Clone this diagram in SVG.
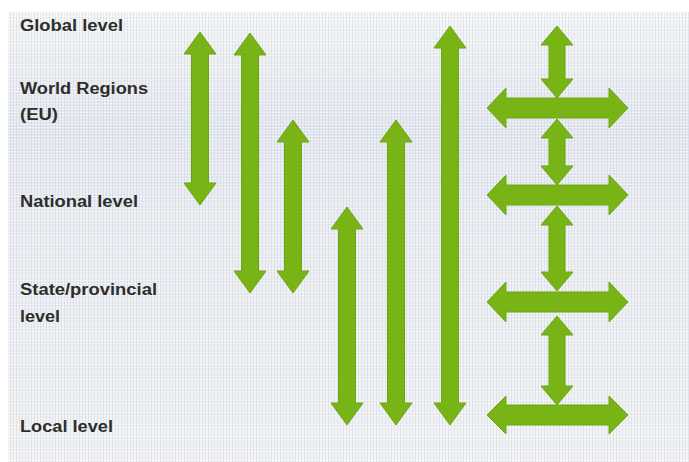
<svg xmlns="http://www.w3.org/2000/svg" width="689" height="462" viewBox="0 0 689 462">
  <defs>
    <linearGradient id="bg" x1="0" y1="0" x2="0" y2="1">
      <stop offset="0" stop-color="#f6f7fb"/>
      <stop offset="0.12" stop-color="#eef0f8"/>
      <stop offset="0.25" stop-color="#e5e8f5"/>
      <stop offset="0.5" stop-color="#eceef7"/>
      <stop offset="0.75" stop-color="#eef0f8"/>
      <stop offset="1" stop-color="#f3f4f9"/>
    </linearGradient>
    <pattern id="canvas" width="6" height="6" patternUnits="userSpaceOnUse">
      <path d="M0 1.5H6M0 4.5H6" stroke="#ffffff" stroke-width="1" opacity="0.55"/>
      <path d="M1.5 0V6M4.5 0V6" stroke="#9ea3b8" stroke-width="0.8" opacity="0.25"/>
    </pattern>
    <pattern id="weave" width="4" height="4" patternUnits="userSpaceOnUse">
      <path d="M0 2H4" stroke="#4f7f0a" stroke-width="0.8" opacity="0.35"/>
      <path d="M2 0V4" stroke="#a6d43a" stroke-width="0.8" opacity="0.3"/>
    </pattern>
    <style>
      .lbl { font-family: "Liberation Sans", Arial, sans-serif; font-weight: bold; font-size: 16px; fill: #2b2b2b; }
      .arr { fill: #79b416; stroke: #6ea512; stroke-width: 1; stroke-linejoin: round; }
    </style>
  </defs>

  <rect width="689" height="462" fill="#ffffff"/>
  <rect x="8" y="12" width="681" height="450" fill="url(#bg)"/>
  <rect x="8" y="12" width="681" height="450" fill="url(#canvas)"/>

  <g id="labels">
    <g id="global"><text class="lbl" x="20" y="31" textLength="103" lengthAdjust="spacingAndGlyphs">Global level</text></g>
    <g id="world-regions">
      <text class="lbl" x="20" y="94" textLength="128" lengthAdjust="spacingAndGlyphs">World Regions</text>
      <text class="lbl" x="20" y="120" textLength="38" lengthAdjust="spacingAndGlyphs">(EU)</text>
    </g>
    <g id="national"><text class="lbl" x="20" y="207" textLength="118" lengthAdjust="spacingAndGlyphs">National level</text></g>
    <g id="state">
      <text class="lbl" x="20" y="295" textLength="137" lengthAdjust="spacingAndGlyphs">State/provincial</text>
      <text class="lbl" x="20" y="322" textLength="40" lengthAdjust="spacingAndGlyphs">level</text>
    </g>
    <g id="local"><text class="lbl" x="20" y="432" textLength="93" lengthAdjust="spacingAndGlyphs">Local level</text></g>
  </g>

  <g id="connectors">
    <!-- vertical long arrows: center, top, bottom -->
    <path id="a1" class="arr" d="M200 32 L216 54 L208.5 54 L208.5 183 L216 183 L200 205 L184 183 L191.5 183 L191.5 54 L184 54 Z"/>
    <path id="a2" class="arr" d="M250 33 L266 55 L258.5 55 L258.5 271 L266 271 L250 293 L234 271 L241.5 271 L241.5 55 L234 55 Z"/>
    <path id="a3" class="arr" d="M293 120 L309 142 L301.5 142 L301.5 271 L309 271 L293 293 L277 271 L284.5 271 L284.5 142 L277 142 Z"/>
    <path id="a4" class="arr" d="M347 207 L363 229 L355.5 229 L355.5 403 L363 403 L347 425 L331 403 L338.5 403 L338.5 229 L331 229 Z"/>
    <path id="a5" class="arr" d="M396 120 L412 142 L404.5 142 L404.5 403 L412 403 L396 425 L380 403 L387.5 403 L387.5 142 L380 142 Z"/>
    <path id="a6" class="arr" d="M450 26 L466 48 L458.5 48 L458.5 403 L466 403 L450 425 L434 403 L441.5 403 L441.5 48 L434 48 Z"/>

    <!-- right cluster: small vertical arrows -->
    <path id="v1" class="arr" d="M557 26 L573 45 L565 45 L565 79 L573 79 L557 98 L541 79 L549 79 L549 45 L541 45 Z"/>
    <path id="v2" class="arr" d="M557 119 L573 138 L565 138 L565 166 L573 166 L557 185 L541 166 L549 166 L549 138 L541 138 Z"/>
    <path id="v3" class="arr" d="M557 206 L573 225 L565 225 L565 272 L573 272 L557 291 L541 272 L549 272 L549 225 L541 225 Z"/>
    <path id="v4" class="arr" d="M557 316 L573 335 L565 335 L565 386 L573 386 L557 405 L541 386 L549 386 L549 335 L541 335 Z"/>

    <!-- right cluster: horizontal arrows -->
    <path id="h1" class="arr" d="M487 108 L506 88 L506 98 L609 98 L609 88 L628 108 L609 128 L609 118 L506 118 L506 128 Z"/>
    <path id="h2" class="arr" d="M487 195 L506 175 L506 185 L609 185 L609 175 L628 195 L609 215 L609 205 L506 205 L506 215 Z"/>
    <path id="h3" class="arr" d="M487 302 L506 282 L506 292 L609 292 L609 282 L628 302 L609 322 L609 312 L506 312 L506 322 Z"/>
    <path id="h4" class="arr" d="M487 415 L506 396 L506 405 L609 405 L609 396 L628 415 L609 434 L609 425 L506 425 L506 434 Z"/>
  </g>

  <rect x="8" y="12" width="681" height="450" fill="url(#weave)" opacity="0.18" pointer-events="none"/>
</svg>
